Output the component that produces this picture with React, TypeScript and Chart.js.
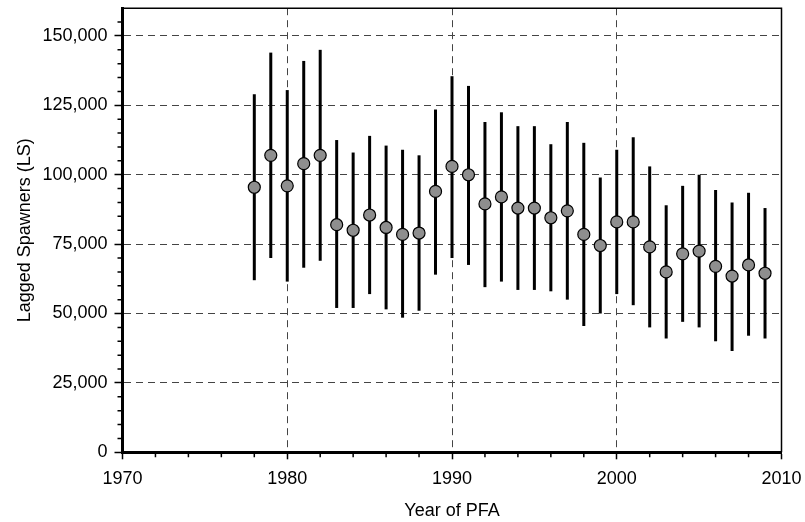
import React, { useEffect, useRef } from 'react';
import { Chart, registerables } from 'chart.js';

Chart.register(...registerables);

const years = [1978, 1979, 1980, 1981, 1982, 1983, 1984, 1985, 1986, 1987, 1988, 1989, 1990, 1991, 1992, 1993, 1994, 1995, 1996, 1997, 1998, 1999, 2000, 2001, 2002, 2003, 2004, 2005, 2006, 2007, 2008, 2009];
const estimates = [95500, 107000, 96000, 104000, 107000, 82000, 80000, 85500, 81000, 78500, 79000, 94000, 103000, 100000, 89500, 92000, 88000, 88000, 84500, 87000, 78500, 74500, 83000, 83000, 74000, 65000, 71500, 72500, 67000, 63500, 67500, 64500];
const lower = [62000, 70000, 61500, 66500, 69000, 52000, 52000, 57000, 51500, 48500, 51000, 64000, 70000, 67500, 59500, 61500, 58500, 58500, 58000, 55000, 45500, 50000, 57000, 53000, 45000, 41000, 47000, 45000, 40000, 36500, 42000, 41000];
const upper = [129000, 144000, 130500, 141000, 145000, 112500, 108000, 114000, 110500, 109000, 107000, 123500, 135500, 132000, 119000, 122500, 117500, 117500, 111000, 119000, 111500, 99000, 109000, 113500, 103000, 89000, 96000, 100000, 94500, 90000, 93500, 88000];

const yTicks = [0, 25000, 50000, 75000, 100000, 125000, 150000];
const xTicks = [1970, 1980, 1990, 2000, 2010];
const yMinorStep = 5000;
const xMinorStep = 2;

const FONT = "'Liberation Sans', Arial, sans-serif";

function fmt(v: number): string {
  return String(Math.round(v)).replace(/\B(?=(\d{3})+(?!\d))/g, ',');
}

const errorBarPlugin = {
  id: 'errorBars',
  beforeDatasetsDraw(chart: any) {
    const { ctx, scales } = chart;
    const xs = scales.x;
    const ys = scales.y;
    ctx.save();
    ctx.strokeStyle = '#000';
    ctx.lineWidth = 3;
    ctx.lineCap = 'butt';
    for (let i = 0; i < years.length; i++) {
      const x = xs.getPixelForValue(years[i]);
      ctx.beginPath();
      ctx.moveTo(x, ys.getPixelForValue(lower[i]));
      ctx.lineTo(x, ys.getPixelForValue(upper[i]));
      ctx.stroke();
    }
    ctx.restore();
  },
  afterDraw(chart: any) {
    const { ctx, scales, chartArea } = chart;
    const xs = scales.x;
    const ys = scales.y;
    ctx.save();
    ctx.strokeStyle = '#000';
    ctx.lineWidth = 1.5;
    // frame top and right
    ctx.beginPath();
    ctx.moveTo(chartArea.left, chartArea.top);
    ctx.lineTo(chartArea.right, chartArea.top);
    ctx.lineTo(chartArea.right, chartArea.bottom);
    ctx.stroke();
    // minor y ticks
    ctx.beginPath();
    for (let v = yMinorStep; v < ys.max; v += yMinorStep) {
      if (yTicks.includes(v)) continue;
      const y = ys.getPixelForValue(v);
      ctx.moveTo(chartArea.left - 5, y);
      ctx.lineTo(chartArea.left, y);
    }
    // minor x ticks
    for (let v = xs.min + xMinorStep; v < xs.max; v += xMinorStep) {
      if (xTicks.includes(v)) continue;
      const x = xs.getPixelForValue(v);
      ctx.moveTo(x, chartArea.bottom);
      ctx.lineTo(x, chartArea.bottom + 5);
    }
    ctx.stroke();
    ctx.restore();
  },
};

export default function App() {
  const ref = useRef<HTMLCanvasElement | null>(null);
  useEffect(() => {
    if (!ref.current) return;
    const chart = new Chart(ref.current, {
      type: 'scatter',
      data: {
        datasets: [
          {
            data: years.map((y, i) => ({ x: y, y: estimates[i] })),
            backgroundColor: '#8e8e8e',
            borderColor: '#000',
            borderWidth: 1.2,
            pointRadius: 6,
            pointHoverRadius: 6,
          },
        ],
      },
      options: {
        animation: false,
        responsive: false,
        events: [],
        layout: { autoPadding: false, padding: { top: 8.2, right: 23.5, left: 0, bottom: 0 } },
        plugins: { legend: { display: false }, tooltip: { enabled: false } },
        scales: {
          x: {
            type: 'linear',
            min: 1970,
            max: 2010,
            afterBuildTicks: (s: any) => { s.ticks = xTicks.map((v) => ({ value: v })); },
            afterFit: (s: any) => { s.height = 69.7; s.paddingLeft = 0; s.paddingRight = 0; },
            ticks: {
              callback: (v: any) => String(v),
              font: { family: FONT, size: 18 },
              color: '#000',
              padding: 9,
              maxRotation: 0,
            },
            grid: { color: '#444', lineWidth: 1, tickLength: 7, tickColor: '#000', tickWidth: 1.5 },
            border: { display: true, color: '#000', width: 3, dash: [7, 5] },
            title: { display: true, text: 'Year of PFA', font: { family: FONT, size: 18 }, color: '#000', padding: { top: 0, bottom: 0 } },
          },
          y: {
            type: 'linear',
            min: 0,
            max: 160000,
            afterBuildTicks: (s: any) => { s.ticks = yTicks.map((v) => ({ value: v })); },
            afterFit: (s: any) => { s.width = 122.5; s.paddingTop = 0; s.paddingBottom = 0; },
            ticks: {
              callback: (v: any) => fmt(Number(v)),
              font: { family: FONT, size: 18 },
              color: '#000',
              padding: 7,
            },
            grid: { color: '#444', lineWidth: 1, tickLength: 8, tickColor: '#000', tickWidth: 1.5 },
            border: { display: true, color: '#000', width: 3, dash: [7, 5] },
            title: { display: true, text: 'Lagged Spawners (LS)', font: { family: FONT, size: 18 }, color: '#000', padding: { top: 14, bottom: 0 } },
          },
        },
      } as any,
      plugins: [errorBarPlugin],
    });
    return () => chart.destroy();
  }, []);
  return (
    <div style={{ position: 'absolute', left: 0, top: 0, width: 805, height: 522, background: '#fff' }}>
      <canvas ref={ref} width={805} height={522} style={{ display: 'block' }} />
    </div>
  );
}
